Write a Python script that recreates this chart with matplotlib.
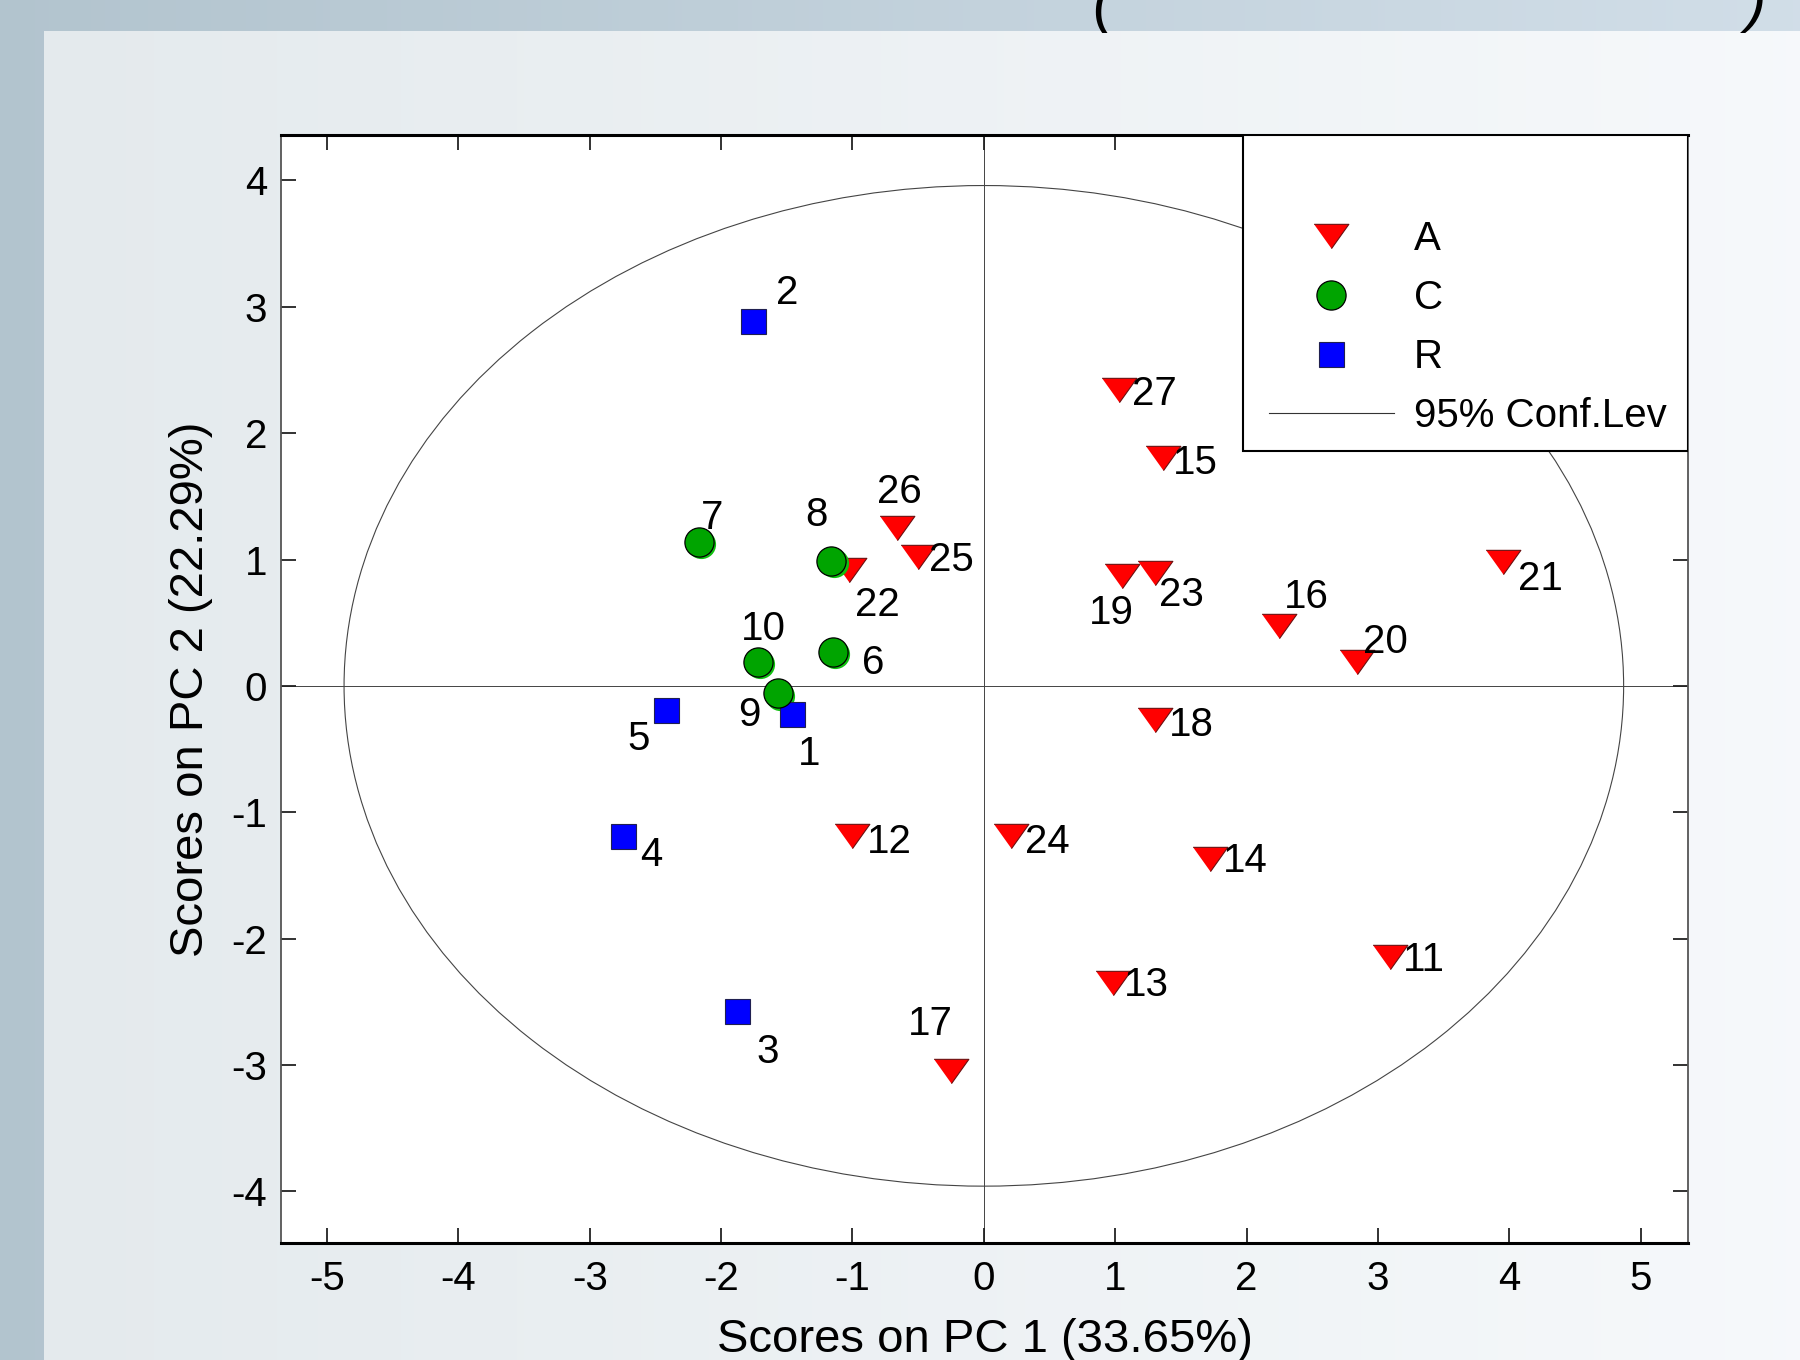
import numpy as np
import matplotlib
matplotlib.use("Agg")
import matplotlib.pyplot as plt
from matplotlib.patches import Ellipse, Rectangle
from matplotlib.lines import Line2D
import matplotlib.transforms as mtransforms

plt.rcParams['font.family'] = ['Liberation Sans', 'DejaVu Sans']

# ---------------- data ----------------
a_ids = [27, 15, 26, 25, 22, 19, 23, 16, 20, 21, 18, 12, 24, 14, 11, 13, 17]
a_x = [1.03, 1.36, -0.66, -0.50, -1.03, 1.05, 1.30, 2.25, 2.84, 3.95, 1.30, -1.00, 0.21, 1.72, 3.09, 0.98, -0.25]
a_y = [2.34, 1.80, 1.25, 1.02, 0.92, 0.87, 0.89, 0.47, 0.19, 0.98, -0.27, -1.19, -1.19, -1.37, -2.15, -2.35, -3.05]

c_ids = [7, 8, 10, 6, 9]
c_x = [-2.17, -1.16, -1.72, -1.15, -1.57]
c_y = [1.14, 0.99, 0.19, 0.27, -0.06]

r_ids = [2, 5, 1, 4, 3]
r_x = [-1.76, -2.42, -1.46, -2.75, -1.88]
r_y = [2.89, -0.19, -0.22, -1.19, -2.57]

group_names = ['A', 'C', 'R']
conf_label = '95% Conf.Lev'
ellipse_a = 4.87
ellipse_b = 3.96

x_ticks = [-5, -4, -3, -2, -1, 0, 1, 2, 3, 4, 5]
y_ticks = [-4, -3, -2, -1, 0, 1, 2, 3, 4]
xlabel = 'Scores on PC 1 (33.65%)'
ylabel = 'Scores on PC 2 (22.29%)'

# label offsets (reference display px, converted to points below)
label_off = {
    2: (30, 24), 27: (31, -3), 15: (29, -4), 26: (2, 31), 25: (29, -3),
    22: (25, -31), 8: (-13, 40), 7: (12, 21), 19: (-9, -32), 23: (23, -19),
    16: (23, 26), 20: (25, 17), 21: (33, -15), 10: (5, 29), 6: (35, -10),
    9: (-25, -19), 5: (-24, -25), 1: (15, -35), 18: (32, -4), 4: (25, -16),
    12: (32, -5), 24: (31, -5), 14: (31, -2), 11: (30, -2), 13: (29, -2),
    17: (-18, 41), 3: (27, -36),
}
PX2PT = 0.8266

# ---------------- figure & background ----------------
W, H = 1800, 1360
fig = plt.figure(figsize=(W / 100, H / 100), dpi=100)
fig.patch.set_facecolor('#b4c6d0')

bg = fig.add_axes([0, 0, 1, 1], zorder=-10)
bg.set_axis_off()
gx = np.linspace(0, 1, 256)
outer = np.zeros((2, 256, 3))
c0 = np.array([0.70, 0.77, 0.81]); c1 = np.array([0.82, 0.87, 0.91])
outer[:] = c0 + (c1 - c0) * gx[:, None]
bg.imshow(outer, extent=[0, 1, 0, 1], aspect='auto', transform=bg.transAxes)
panel = np.zeros((2, 256, 3))
p0 = np.array([0.895, 0.918, 0.930]); p1 = np.array([0.965, 0.975, 0.985])
panel[:] = p0 + (p1 - p0) * gx[:, None]
bg.imshow(panel, extent=[44 / W, 1, 0, 1 - 31 / H], aspect='auto')
bg.set_xlim(0, 1); bg.set_ylim(0, 1)

fig.text(1102 / W, 1 - 20 / H, '(', fontsize=44, va='baseline', ha='center', style='italic')
fig.text(1756 / W, 1 - 20 / H, ')', fontsize=44, va='baseline', ha='center', style='italic')

# ---------------- axes ----------------
ax = fig.add_axes([281 / W, 1 - 1243 / H, (1688 - 281) / W, (1243 - 135) / H])
ax.set_facecolor('white')
ax.set_xlim(-5.35, 5.36)
ax.set_ylim(-4.41, 4.36)

ax.axhline(0, color='#444444', lw=0.7, zorder=1)
ax.axvline(0, color='#444444', lw=0.7, zorder=1)
ax.add_patch(Ellipse((0, 0), 2 * ellipse_a, 2 * ellipse_b, fill=False,
                     edgecolor='#444444', lw=0.8, zorder=1))

tri = [(-1, 0.7), (1, 0.7), (0, -0.7)]
ax.plot(a_x, a_y, ls='none', marker=tri, markersize=25, markerfacecolor='#ff0000',
        markeredgecolor='#6a1010', markeredgewidth=0.8, zorder=3)

shadow = mtransforms.offset_copy(ax.transData, fig=fig, x=2.5, y=-2.5, units='dots')
ax.plot(c_x, c_y, ls='none', marker='o', markersize=21, markerfacecolor='#10c010',
        markeredgecolor='none', transform=shadow, zorder=3)
ax.plot(c_x, c_y, ls='none', marker='o', markersize=21, markerfacecolor='#00a400',
        markeredgecolor='#000000', markeredgewidth=0.9, zorder=4)
ax.plot(r_x, r_y, ls='none', marker='s', markersize=18, markerfacecolor='#0000ff',
        markeredgecolor='#202050', markeredgewidth=0.8, zorder=3)

for ids, xs, ys in [(a_ids, a_x, a_y), (c_ids, c_x, c_y), (r_ids, r_x, r_y)]:
    for i, x, y in zip(ids, xs, ys):
        dx, dy = label_off[i]
        ax.annotate(str(i), (x, y), xytext=(dx * PX2PT, dy * PX2PT),
                    textcoords='offset points', ha='center', va='center',
                    fontsize=29, zorder=5)

ax.set_xticks(x_ticks)
ax.set_yticks(y_ticks)
ax.set_xticklabels([str(v) for v in x_ticks])
ax.set_yticklabels([str(v) for v in y_ticks])
ax.tick_params(direction='in', length=11, width=1.3, color='#222222',
               top=True, right=True, labelsize=29, pad=12)
ax.tick_params(axis='y', pad=10)
for s in ['top', 'bottom']:
    ax.spines[s].set_linewidth(2.2)
    ax.spines[s].set_color('black')
for s in ['left', 'right']:
    ax.spines[s].set_linewidth(1.3)
    ax.spines[s].set_color('#555555')

ax.set_xlabel(xlabel, fontsize=34, labelpad=15)
ax.set_ylabel(ylabel, fontsize=34, labelpad=13)

# ---------------- legend ----------------
ax.add_patch(Rectangle((0.684, 0.715), 0.316, 0.285, transform=ax.transAxes,
                       facecolor='white', edgecolor='black', lw=1.5, zorder=8))
handles = [
    Line2D([], [], ls='none', marker=tri, markersize=25, markerfacecolor='#ff0000',
           markeredgecolor='#6a1010', markeredgewidth=0.8),
    Line2D([], [], ls='none', marker='o', markersize=21, markerfacecolor='#00a400',
           markeredgecolor='black', markeredgewidth=0.9),
    Line2D([], [], ls='none', marker='s', markersize=18, markerfacecolor='#0000ff',
           markeredgecolor='#202050', markeredgewidth=0.8),
    Line2D([], [], color='#333333', lw=0.8),
]
leg = ax.legend(handles, group_names + [conf_label], loc='center left',
                bbox_to_anchor=(0.702, 0.826), frameon=False, fontsize=29,
                handlelength=3.1, handletextpad=0.5, labelspacing=0.52,
                borderpad=0, borderaxespad=0)
leg.set_zorder(9)

fig.savefig('out.png', dpi=100)
